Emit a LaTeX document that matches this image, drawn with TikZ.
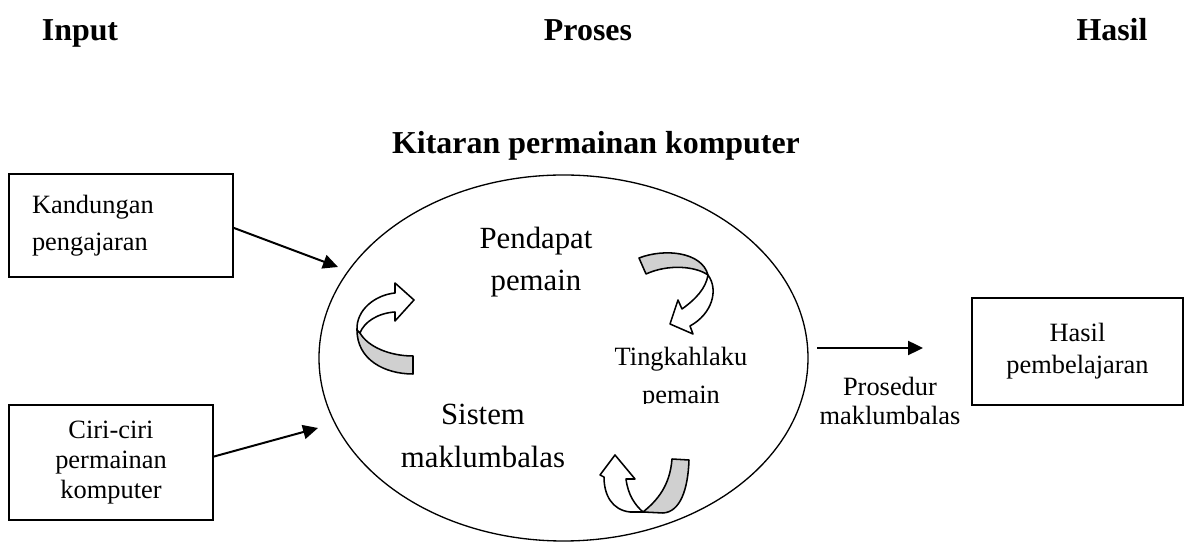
\documentclass[tikz,border=0pt]{standalone}
\usepackage{fontspec}
\setmainfont{Liberation Serif}
\usetikzlibrary{shapes.geometric,arrows.meta}
\newcommand{\pxu}{0.4545pt}
\definecolor{pitagray}{RGB}{208,208,208}

\begin{document}
\begin{tikzpicture}[x=\pxu, y=-\pxu, >={Triangle[length=6.8pt,width=6.4pt]},
	kotak/.style={draw, line width=0.75pt, inner sep=0pt},
	anak/.style={->, line width=0.9pt},
	pita/.style={draw, line width=0.7pt, line join=round, fill=white},
	belakang/.style={pita, fill=pitagray},
	judul/.style={anchor=base, font=\fontsize{14.5}{17}\selectfont\bfseries},
	besar/.style={align=center, font=\fontsize{14}{19.3}\selectfont},
	biasa/.style={align=center, font=\fontsize{12}{14}\selectfont}]
					\useasboundingbox (0,0) rectangle (1184,544);
					\node[judul] (input) at (80,41) {Input};
					\node[judul] (proses) at (588,41) {Proses};
					\node[judul] (hasil) at (1112,41) {Hasil};
					\node[judul] (tajuk) at (596,154) {Kitaran permainan komputer};
					\node[draw, ellipse, line width=0.6pt, inner sep=0pt, minimum width={489*\pxu}, minimum height={366*\pxu}] (kitar) at (563.5,358) {};
					\node[kotak, minimum width={224*\pxu}, minimum height={103*\pxu}, text width={178*\pxu}, align=left, font=\fontsize{12}{17}\selectfont] (kandungan) at (121,225.5) {Kandungan\\pengajaran};
					\node[kotak, minimum width={204*\pxu}, minimum height={115*\pxu}, align=center, font=\fontsize{12}{13.6}\selectfont] (ciri) at (111,462.5) {Ciri-ciri\\permainan\\komputer};
					\node[kotak, minimum width={211*\pxu}, minimum height={107*\pxu}, align=center, font=\fontsize{12}{14.5}\selectfont] (keputusan) at (1077.5,351.5) {Hasil\\pembelajaran};
					\node[besar] (pendapat) at (536,262) {Pendapat\\pemain};
					\node[besar] (sistem) at (483,436) {Sistem\\maklumbalas};
					\begin{scope}
						\clip (600,330) rectangle (770,404);
						\node[biasa, font=\fontsize{12}{17.5}\selectfont] (tingkah) at (681,378) {Tingkahlaku\\pemain};
					\end{scope}
					\node[biasa, font=\fontsize{12}{12.8}\selectfont] (prosedur) at (890,401) {Prosedur\\maklumbalas};
					\coordinate (masuk1) at (338,267);
					\coordinate (masuk2) at (318,428);
					\coordinate (keluar1) at (817,348);
					\coordinate (keluar2) at (923,348);
					\draw[anak] ([yshift=-1.1pt]kandungan.east) -- (masuk1);
					\draw[anak] ([yshift=2.7pt]ciri.east) -- (masuk2);
					\draw[anak] (keluar1) -- (keluar2);
					\draw[belakang] (360,333) .. controls (368,347) and (390,356) .. (413,356) -- (413,374) .. controls (385,374) and (357,360) .. (357,330) -- cycle;
					\draw[pita] (357,330) .. controls (356,310) and (375,295) .. (395,293) -- (395,283) -- (414,300) -- (395,321) -- (395,312) .. controls (378,313) and (364,322) .. (360,333) -- cycle;
					\draw[belakang] (639,258) .. controls (665,248) and (702,252) .. (708,275) .. controls (695,266) and (668,264) .. (646,274) -- cycle;
					\draw[pita] (708,275) .. controls (719,290) and (712,314) .. (690,326) -- (693,334) -- (670,324) -- (678,300) -- (682,309) .. controls (696,299) and (706,288) .. (708,275) -- cycle;
					\draw[belakang] (672,459) -- (689,460) .. controls (688,490) and (680,512) .. (663,513) -- (643,512) .. controls (658,500) and (670,485) .. (672,459) -- cycle;
					\draw[pita] (643,512) -- (630,512) .. controls (612,510) and (604,495) .. (604,477) -- (600,475) -- (615,455) -- (635,479) -- (626,479) .. controls (628,495) and (635,505) .. (643,512) -- cycle;
				\end{tikzpicture}
\end{document}
